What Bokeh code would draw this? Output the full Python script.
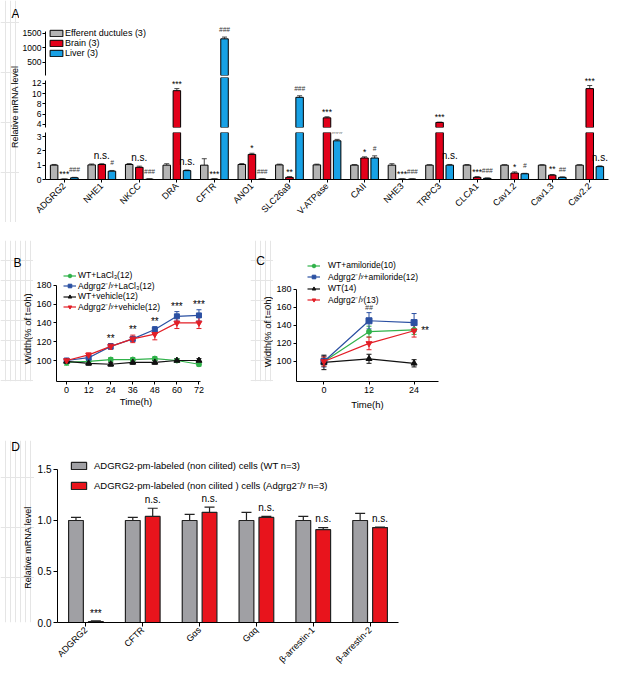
from math import pi
from bokeh.plotting import figure
from bokeh.models import (ColumnDataSource, FactorRange, Range1d, FixedTicker, NumeralTickFormatter,
                          Whisker, TeeHead, LabelSet, Label, Legend, LegendItem)
from bokeh.core.properties import value
from bokeh.transform import dodge
from bokeh.layouts import column, row
from bokeh.embed import file_html
from bokeh.resources import INLINE

FONT = "Liberation Sans"

# ================= Panel A data =================
genes_A = ["ADGRG2", "NHE1", "NKCC", "DRA", "CFTR", "ANO1", "SLC26a9", "V-ATPase",
           "CAII", "NHE3", "TRPC3", "CLCA1", "Cav1.2", "Cav1.3", "Cav2.2"]
efferent_A = [1.0, 1.02, 1.05, 1.0, 1.0, 1.05, 1.02, 1.02, 1.0, 1.0, 1.0, 1.0, 1.0, 1.0, 1.0]
efferent_err = [0.05, 0.06, 0.06, 0.1, 0.45, 0.06, 0.05, 0.05, 0.04, 0.1, 0.03, 0.04, 0.03, 0.03, 0.03]
brain_A = [0.02, 1.05, 0.85, 10.6, 0.03, 1.75, 0.15, 5.3, 1.5, 0.03, 4.4, 0.15, 0.45, 0.3, 11.0]
brain_err = [0.01, 0.05, 0.08, 0.4, 0.01, 0.08, 0.05, 0.2, 0.08, 0.01, 0.05, 0.05, 0.08, 0.05, 0.6]
liver_A = [0.12, 0.58, 0.03, 0.62, 1300, 0.03, 9.3, 2.7, 1.5, 0.03, 1.0, 0.08, 0.4, 0.15, 0.9]
liver_err = [0.03, 0.05, 0.01, 0.04, 60, 0.01, 0.3, 0.1, 0.15, 0.01, 0.05, 0.03, 0.03, 0.03, 0.05]
sig_eff_A = [""] * 15
sig_brain_A = ["***", "n.s.", "n.s.", "***", "***", "*", "**", "***", "*", "***", "***", "***", "*", "**", "***"]
sig_liver_A = ["###", "#", "###", "n.s.", "###", "###", "###", "###", "#", "###", "n.s.", "###", "#", "##", "n.s."]
labels_A = ["Efferent ductules (3)", "Brain (3)", "Liver (3)"]
ticks_A_top = [500, 1000, 1500]
ticks_A_mid = [4, 6, 8, 10, 12]
ticks_A_low = [0, 1, 2, 3]

# ================= Panel B data =================
time_B = [0, 12, 24, 36, 48, 60, 72]
wt_lacl = [98, 99, 101, 101, 102, 100, 96]
wt_lacl_err = [3, 2, 2, 2, 2, 2, 2]
ko_lacl = [100, 103, 115, 123, 133, 147, 148]
ko_lacl_err = [2, 2, 3, 2, 3, 5, 6]
wt_veh = [99, 97, 96, 98, 98, 100, 100]
wt_veh_err = [2, 2, 2, 2, 2, 2, 2]
ko_veh = [100, 106, 115, 123, 128, 140, 140]
ko_veh_err = [2, 2, 3, 4, 6, 6, 6]
labels_B = ["WT+LaCl\u2083(12)", "Adgrg2\u207b/\u02b8+LaCl\u2083(12)", "WT+vehicle(12)", "Adgrg2\u207b/\u02b8+vehicle(12)"]
sig_B_t = [24, 36, 48, 60, 72]
sig_B = ["**", "**", "**", "***", "***"]
ticks_B_x = [0, 12, 24, 36, 48, 60, 72]
ticks_B_y = [100, 120, 140, 160, 180]

# ================= Panel C data =================
time_C = [0, 12, 24]
wt_amil = [100, 133, 135]
wt_amil_err = [5, 6, 5]
ko_amil = [100, 145, 143]
ko_amil_err = [6, 9, 10]
wt_C = [99, 103, 98]
wt_C_err = [8, 5, 4]
ko_C = [100, 120, 134]
ko_C_err = [5, 7, 7]
labels_C = ["WT+amiloride(10)", "Adgrg2\u207b/\u02b8+amiloride(12)", "WT(14)", "Adgrg2\u207b/\u02b8(13)"]
ticks_C_x = [0, 12, 24]
ticks_C_y = [100, 120, 140, 160, 180]

# ================= Panel D data =================
genes_D = ["ADGRG2", "CFTR", "G\u03b1s", "G\u03b1q", "\u03b2-arrestin-1", "\u03b2-arrestin-2"]
wt_D = [1.0, 1.0, 1.0, 1.0, 1.0, 1.0]
wt_D_err = [0.03, 0.03, 0.06, 0.08, 0.04, 0.07]
ko_D = [0.01, 1.04, 1.08, 1.03, 0.91, 0.93]
ko_D_err = [0.005, 0.08, 0.05, 0.01, 0.02, 0.005]
sig_D = ["***", "n.s.", "n.s.", "n.s.", "n.s.", "n.s."]
labels_D = ["ADGRG2-pm-labeled (non cilited) cells (WT n=3)",
            "ADGRG2-pm-labeled (non cilited ) cells (Adgrg2\u207b/\u02b8 n=3)"]
ticks_D_y = [0.0, 0.5, 1.0, 1.5]

GREEN, BLUE, BLACK, RED = "#30b24a", "#2b50a2", "#111111", "#e31e26"
INK = "#000000"


def style(p, tick_fs="9px"):
    p.outline_line_color = None
    p.background_fill_color = "white"
    p.border_fill_color = "white"
    for g in p.grid:
        g.visible = False
    for ax in p.axis:
        ax.axis_line_color = "black"
        ax.axis_line_width = 1
        ax.major_tick_line_color = "black"
        ax.major_tick_out = 3
        ax.major_tick_in = 0
        ax.minor_tick_line_color = None
        ax.major_label_text_font = FONT
        ax.major_label_text_font_size = tick_fs
        ax.major_label_text_color = "black"
        ax.major_label_standoff = 2
        ax.axis_label_text_font = FONT
        ax.axis_label_text_font_style = "normal"
        ax.axis_label_text_font_size = "9.5px"
        ax.axis_label_text_color = "black"


def label_strip(w, h, top, bottom, letter_txt, letter_xy, ylabel=None, ylabel_xy=None, ylabel_fs="9.5px"):
    """Narrow figure holding a panel letter and a rotated axis title.
    Its borders equal those of the plot beside it; y is measured up from the canvas bottom."""
    f = figure(width=w, height=h, x_range=Range1d(0, w), y_range=Range1d(bottom, h - top), title=None,
               x_axis_location=None, y_axis_location=None, output_backend="svg",
               toolbar_location=None, min_border_left=0, min_border_right=0,
               min_border_top=top, min_border_bottom=bottom)
    f.outline_line_color = None
    f.background_fill_color = "white"
    f.border_fill_color = "white"
    f.add_layout(Label(x=letter_xy[0], y=letter_xy[1], text=letter_txt, text_font=FONT,
                       text_font_size="12px", text_align="center", text_baseline="middle",
                       text_color=INK))
    if ylabel:
        f.add_layout(Label(x=ylabel_xy[0], y=ylabel_xy[1], text=ylabel, angle=pi / 2, text_font=FONT,
                           text_font_size=ylabel_fs, text_align="center", text_baseline="middle",
                           text_color=INK))
    return f


SIG_STYLE = {"star": ("8.5px", "normal", INK, 0),
             "hash": ("6.5px", "italic", "#333333", 4),
             "ns": ("10px", "normal", INK, 3)}


def sig_kind(t):
    if t.startswith("#"):
        return "hash"
    if t == "n.s.":
        return "ns"
    return "star"


# ================= Panel A (broken axis: three stacked segments) =================
A_X = FactorRange(factors=genes_A, range_padding=0, factor_padding=0)
series_A = [(efferent_A, efferent_err, sig_eff_A, "#b4b4b4", -0.27),
            (brain_A, brain_err, sig_brain_A, "#e2001a", 0.0),
            (liver_A, liver_err, sig_liver_A, "#18a1e5", 0.27)]


def a_segment(y0, y1, yend, ticks, h, top, bottom, show_x):
    p = figure(width=597, height=h, x_range=A_X, y_range=Range1d(y0, yend), title=None,
               x_axis_location="below" if show_x else None,
               output_backend="svg", toolbar_location=None,
               min_border_left=24, min_border_right=8, min_border_top=top, min_border_bottom=bottom)
    style(p, "8.5px")
    p.yaxis.ticker = FixedTicker(ticks=ticks)
    p.yaxis.bounds = (y0, y1)
    p.yaxis.major_label_standoff = 1
    if show_x:
        p.xaxis.major_label_orientation = pi / 4
        p.xaxis.major_label_text_font_size = "9px"
    legend_rends = []
    n = len(genes_A)
    for vals, errs, sigs, col, off in series_A:
        keep = [i for i in range(n) if vals[i] > y0]
        src = ColumnDataSource(dict(gene=[genes_A[i] for i in keep], val=[vals[i] for i in keep]))
        p.vbar(x=dodge("gene", off, range=A_X), top="val", bottom=0, width=0.2, source=src,
               fill_color=col, line_color="black", line_width=1)
        # hidden full-data copy, used only to draw the legend swatch
        lr = p.vbar(x=dodge("gene", off, range=A_X), top="val", bottom=0, width=0.2,
                    source=ColumnDataSource(dict(gene=genes_A, val=vals)),
                    fill_color=col, line_color="black", line_width=1, visible=False)
        legend_rends.append(lr)
        inside = [i for i in range(n) if y0 < vals[i] <= y1]
        wsrc = ColumnDataSource(dict(gene=[genes_A[i] for i in inside],
                                     lo=[vals[i] for i in inside],
                                     hi=[vals[i] + errs[i] for i in inside]))
        p.add_layout(Whisker(source=wsrc, base=dodge("gene", off, range=A_X), lower="lo", upper="hi",
                             lower_head=None,
                             upper_head=TeeHead(size=5, line_color="#444444", line_width=1),
                             line_color="#444444", line_width=1))
        for kind, (fs, fst, fc, yo) in SIG_STYLE.items():
            sel = [i for i in inside if sigs[i] and sig_kind(sigs[i]) == kind]
            if not sel:
                continue
            lsrc = ColumnDataSource(dict(gene=[genes_A[i] for i in sel],
                                         y=[vals[i] + errs[i] for i in sel],
                                         t=[sigs[i] for i in sel]))
            p.add_layout(LabelSet(source=lsrc, x=dodge("gene", off, range=A_X), y="y", text="t",
                                  y_offset=yo, text_align="center", text_baseline="bottom",
                                  text_font=value(FONT), text_font_size=fs,
                                  text_font_style=fst, text_color=fc))
    return p, legend_rends


A_top, rends_top = a_segment(40, 1560, 1724, ticks_A_top, 77, 26, 2, False)
A_mid, _ = a_segment(3.41, 12.56, 13.17, ticks_A_mid, 52, 0, 2, False)
A_low, _ = a_segment(0, 3.28, 3.28, ticks_A_low, 93, 3, 43, True)

legA = Legend(items=[LegendItem(label=value(lab), renderers=[r]) for lab, r in zip(labels_A, rends_top)],
              location=(3, 17), glyph_width=16, glyph_height=8, label_height=7, label_standoff=1,
              spacing=-1, padding=0, margin=0, border_line_color=None, background_fill_alpha=0,
              inactive_fill_alpha=0,
              label_text_font=FONT, label_text_font_size="9px", label_text_color="black")
A_top.add_layout(legA)

A_lab = label_strip(19, 222, 0, 0, "A", (15, 209), "Relative mRNA  level", (14, 117), "9px")


# ================= line panels B and C =================
def line_panel(p, t, series, labels, leg_loc, leg_standoff, leg_spacing):
    rs = {}
    for idx, (vals, errs, col, marker, size) in enumerate(series):
        src = ColumnDataSource(dict(t=t, v=vals, lo=[a - b for a, b in zip(vals, errs)],
                                    hi=[a + b for a, b in zip(vals, errs)]))
        p.add_layout(Whisker(source=src, base="t", lower="lo", upper="hi", line_color=col, line_width=1,
                             lower_head=TeeHead(size=5, line_color=col, line_width=1),
                             upper_head=TeeHead(size=5, line_color=col, line_width=1)))
        l = p.line("t", "v", source=src, line_color=col, line_width=1.2)
        s = p.scatter("t", "v", source=src, marker=marker, size=size, fill_color=col, line_color=col)
        rs[idx] = [l, s]
    items = [LegendItem(label=value(lab), renderers=rs[idx]) for idx, lab in enumerate(labels)]
    leg = Legend(items=items, location=leg_loc, glyph_width=13, glyph_height=9, label_height=9,
                 label_standoff=leg_standoff, spacing=leg_spacing, padding=0, margin=0,
                 border_line_color=None, background_fill_alpha=0,
                 label_text_font=FONT, label_text_font_size="8.5px", label_text_color="black")
    p.add_layout(leg)


BC_H, BC_TOP, BC_BOT = 218, 18, 59      # shared borders so that the row's frames line up

B_lab = label_strip(33, BC_H, BC_TOP, BC_BOT, "B", (17, 178), "Width(%  of t=0h)", (27, 113))
pB = figure(width=217, height=BC_H, x_range=Range1d(-5.5, 81), y_range=Range1d(77.66, 227.66), title=None,
            output_backend="svg", toolbar_location=None,
            min_border_left=20, min_border_right=35, min_border_top=BC_TOP, min_border_bottom=BC_BOT)
style(pB)
pB.xaxis.ticker = FixedTicker(ticks=ticks_B_x)
pB.yaxis.ticker = FixedTicker(ticks=ticks_B_y)
pB.xaxis.bounds = (-5.5, 73)
pB.yaxis.bounds = (77.66, 180)
pB.xaxis.axis_label = "Time(h)"
pB.xaxis.axis_label_standoff = 0
series_B = [(wt_lacl, wt_lacl_err, GREEN, "circle", 5),
            (ko_lacl, ko_lacl_err, BLUE, "square", 5),
            (wt_veh, wt_veh_err, BLACK, "triangle", 6),
            (ko_veh, ko_veh_err, RED, "inverted_triangle", 6)]
line_panel(pB, time_B, series_B, labels_B, (7, 69), 2, 0)
sig_B_y = [max(ko_lacl[time_B.index(tt)] + ko_lacl_err[time_B.index(tt)],
               ko_veh[time_B.index(tt)] + ko_veh_err[time_B.index(tt)]) for tt in sig_B_t]
pB.add_layout(LabelSet(source=ColumnDataSource(dict(t=sig_B_t, y=sig_B_y, s=sig_B)), x="t", y="y",
                       text="s", y_offset=0, text_align="center", text_baseline="bottom",
                       text_font=value(FONT), text_font_size="10px", text_color=INK))

C_lab = label_strip(23, BC_H, BC_TOP, BC_BOT, "C", (10, 180), "Width(%  of t=0h)", (17, 110))
pC = figure(width=343, height=BC_H, x_range=Range1d(-7.3, 30.5), y_range=Range1d(77.9, 233.7), title=None,
            output_backend="svg", toolbar_location=None,
            min_border_left=20, min_border_right=178, min_border_top=BC_TOP, min_border_bottom=BC_BOT)
style(pC)
pC.xaxis.ticker = FixedTicker(ticks=ticks_C_x)
pC.yaxis.ticker = FixedTicker(ticks=ticks_C_y)
pC.yaxis.bounds = (77.9, 180)
pC.xaxis.axis_label = "Time(h)"
pC.xaxis.axis_label_standoff = 3
series_C = [(wt_amil, wt_amil_err, GREEN, "circle", 5),
            (ko_amil, ko_amil_err, BLUE, "square", 6),
            (wt_C, wt_C_err, BLACK, "triangle", 6),
            (ko_C, ko_C_err, RED, "inverted_triangle", 6)]
line_panel(pC, time_C, series_C, labels_C, (11, 76), 8, 1)
i12 = time_C.index(12)
i24 = time_C.index(24)
pC.add_layout(LabelSet(source=ColumnDataSource(dict(t=[12], y=[ko_amil[i12] + ko_amil_err[i12]], s=["##"])),
                       x="t", y="y", text="s", y_offset=2, text_align="center", text_baseline="bottom",
                       text_font=value(FONT), text_font_size="7px", text_font_style="italic",
                       text_color="#333333"))
pC.add_layout(LabelSet(source=ColumnDataSource(dict(t=[24], y=[ko_C[i24]], s=["**"])),
                       x="t", y="y", text="s", x_offset=11, text_align="center", text_baseline="middle",
                       text_font=value(FONT), text_font_size="10px", text_color=INK))

# ================= Panel D =================
D_H, D_TOP, D_BOT = 237, 0, 55
D_lab = label_strip(34, D_H, D_TOP, D_BOT, "D", (15, 231), "Relative mRNA level", (27, 130), "9px")
D_X = FactorRange(factors=genes_D, range_padding=0, factor_padding=0)
pD = figure(width=582, height=D_H, x_range=D_X, y_range=Range1d(0, 1.784), title=None,
            output_backend="svg", toolbar_location=None,
            min_border_left=20, min_border_right=218, min_border_top=D_TOP, min_border_bottom=D_BOT)
style(pD, "10px")
pD.yaxis.ticker = FixedTicker(ticks=ticks_D_y)
pD.yaxis.formatter = NumeralTickFormatter(format="0.0")
pD.yaxis.bounds = (0, 1.5)
pD.xaxis.major_label_orientation = pi / 4
pD.xaxis.major_label_text_font_size = "9px"
pD.xaxis.major_tick_out = 4
pD.yaxis.major_tick_out = 4
rD = []
for vals, errs, col, off in [(wt_D, wt_D_err, "#a0a0a4", -0.175), (ko_D, ko_D_err, "#e8141c", 0.175)]:
    src = ColumnDataSource(dict(gene=genes_D, val=vals, hi=[a + b for a, b in zip(vals, errs)]))
    r = pD.vbar(x=dodge("gene", off, range=D_X), top="val", bottom=0, width=0.26, source=src,
                fill_color=col, line_color="#222222", line_width=1.2)
    rD.append(r)
    pD.add_layout(Whisker(source=src, base=dodge("gene", off, range=D_X), lower="val", upper="hi",
                          lower_head=None, upper_head=TeeHead(size=10, line_color="#222222", line_width=1.2),
                          line_color="#222222", line_width=1.2))
sig_D_y = [a + b for a, b in zip(ko_D, ko_D_err)]
for kind, fs, yo in [("star", "10px", 2), ("ns", "10px", 3.5)]:
    sel = [i for i in range(len(genes_D)) if sig_kind(sig_D[i]) == kind]
    pD.add_layout(LabelSet(source=ColumnDataSource(dict(gene=[genes_D[i] for i in sel],
                                                        y=[sig_D_y[i] for i in sel],
                                                        s=[sig_D[i] for i in sel])),
                           x=dodge("gene", 0.175, range=D_X), y="y", text="s", y_offset=yo,
                           text_align="center", text_baseline="bottom",
                           text_font=value(FONT), text_font_size=fs, text_color=INK))
legD = Legend(items=[LegendItem(label=value(lab), renderers=[r]) for lab, r in zip(labels_D, rD)],
              location=(12, 130), glyph_width=19, glyph_height=9, label_height=9, label_standoff=6,
              spacing=8, padding=0, margin=0, border_line_color=None, background_fill_alpha=0,
              label_text_font=FONT, label_text_font_size="9.5px", label_text_color="black")
pD.add_layout(legD)

page = column(row(A_lab, column(A_top, A_mid, A_low)),
              row(B_lab, pB, C_lab, pC),
              row(D_lab, pD))
open("out.html", "w").write(file_html(page, INLINE, "Figure"))
